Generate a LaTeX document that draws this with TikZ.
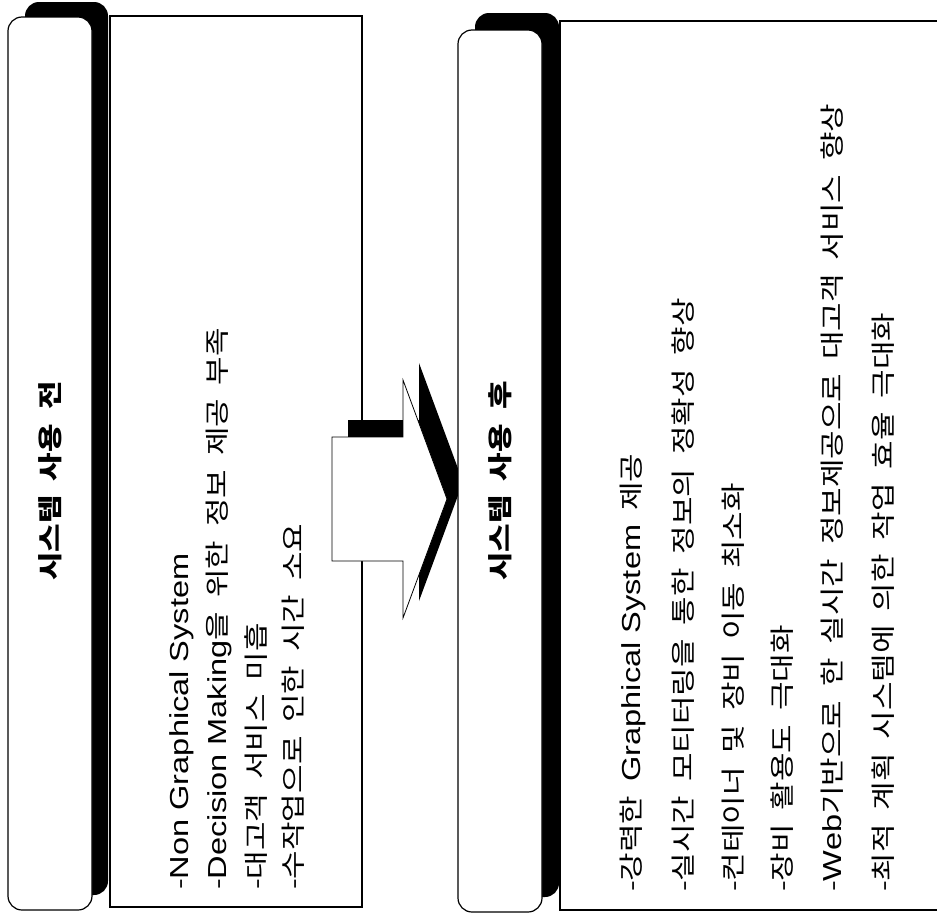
\documentclass[tikz,border=0pt]{standalone}
\usepackage{graphicx}
\usepackage{fontspec}
\setmainfont{Noto Sans CJK KR}[WordSpace=2]
\newfontfamily\lat{Liberation Sans}[Scale=1.05]
\usetikzlibrary{calc}

\newcommand{\squeezed}[1]{\scalebox{1}[0.8]{#1}}

\begin{document}
\begin{tikzpicture}[x=1pt, y=-1pt,
		tabshadow/.style={fill=black, rounded corners=14pt},
		tabbox/.style={draw, fill=white, line width=1.2pt, rounded corners=14pt},
		listbox/.style={draw, line width=1.5pt},
		tabtext/.style={rotate=90, inner sep=0pt, font=\fontsize{31}{31}\selectfont\bfseries},
		itemtext/.style={anchor=west, rotate=90, inner sep=0pt, font=\fontsize{31}{31}\selectfont}]
			\useasboundingbox (0,0) rectangle (937,913);

			% Before: tab with shadow and list box
			\fill[tabshadow] (25,2) rectangle (108,895);
			\draw[tabbox] (8,17) rectangle (92,910);
			\draw[listbox] (110,16) rectangle (362,907);
			\node[tabtext] (before) at (50,481) {\squeezed{시스템 사용 전}};
			\node[itemtext] (b1) at (182,890) {\squeezed{-{\lat Non Graphical System}}};
			\node[itemtext] (b2) at (219,890) {\squeezed{-{\lat Decision Making}을 위한 정보 제공 부족}};
			\node[itemtext] (b3) at (256,890) {\squeezed{-대고객 서비스 미흡}};
			\node[itemtext] (b4) at (293,890) {\squeezed{-수작업으로 인한 시간 소요}};

			% Arrow, shadow first
			\fill[black, shift={(16,-17)}] (332,437) -- (403,437) -- (403,380) -- (447,499) -- (403,618) -- (403,561) -- (332,561) -- cycle;
			\draw[fill=white, line width=0.8pt] (332,437) -- (403,437) -- (403,380) -- (447,499) -- (403,618) -- (403,561) -- (332,561) -- cycle;

			% After: tab with shadow and list box (cut at the right)
			\fill[tabshadow] (475,13) rectangle (559,897);
			\draw[tabbox] (458,30) rectangle (542,912);
			\draw[listbox] (937,21) -- (560,21) -- (560,910) -- (937,910);
			\node[tabtext] (after) at (500,481) {\squeezed{시스템 사용 후}};
			\node[itemtext] (a1) at (633,892) {\squeezed{-강력한 {\lat Graphical System} 제공}};
			\node[itemtext] (a2) at (683,892) {\squeezed{-실시간 모티터링을 통한 정보의 정확성 향상}};
			\node[itemtext] (a3) at (733,892) {\squeezed{-컨테이너 및 장비 이동 최소화}};
			\node[itemtext] (a4) at (782,892) {\squeezed{-장비 활용도 극대화}};
			\node[itemtext] (a5) at (832,892) {\squeezed{-{\lat Web}기반으로 한 실시간 정보제공으로 대고객 서비스 향상}};
			\node[itemtext] (a6) at (883,892) {\squeezed{-최적 계획 시스템에 의한 작업 효율 극대화}};
		\end{tikzpicture}
\end{document}
